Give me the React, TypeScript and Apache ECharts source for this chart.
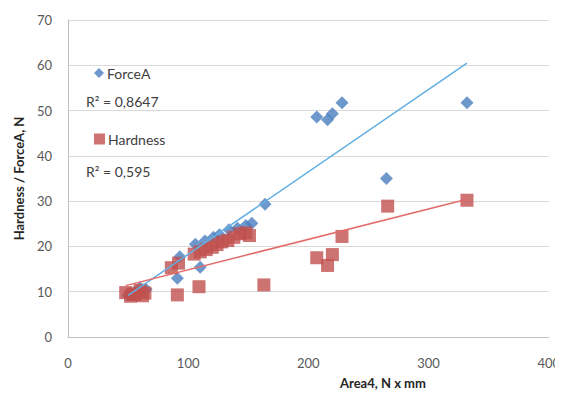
import React, { useEffect, useRef } from "react";
import * as echarts from "echarts";

const forceX = [50, 55, 60, 65, 91, 93, 106, 110, 114, 121, 126, 134, 141, 148, 153, 164, 207, 216, 220, 228, 265, 332];
const forceY = [9.2, 9.8, 10.8, 10.5, 13.0, 17.7, 20.5, 15.4, 21.2, 22.0, 22.6, 23.7, 24.0, 24.6, 25.1, 29.3, 48.6, 48.0, 49.3, 51.7, 35.0, 51.7];

const hardX = [48, 52, 54, 56, 60, 62, 64, 86, 91, 92, 105, 109, 110, 115, 120, 124, 128, 133, 138, 143, 148, 151, 163, 207, 216, 220, 228, 266, 332];
const hardY = [9.8, 9.0, 9.4, 9.5, 10.3, 9.1, 9.7, 15.3, 9.3, 16.3, 18.3, 11.1, 18.8, 19.3, 19.8, 20.4, 21.0, 21.3, 22.0, 22.8, 23.0, 22.4, 11.5, 17.5, 15.8, 18.2, 22.2, 28.9, 30.2];

const seriesNames = ["ForceA", "Hardness"];
const r2Labels = ["R\u00b2 = 0,8647", "R\u00b2 = 0,595"];
const xTitle = "Area4, N x mm";
const yTitle = "Hardness / ForceA, N";

function fit(xs: number[], ys: number[]) {
  const n = xs.length;
  const mx = xs.reduce((a, b) => a + b, 0) / n;
  const my = ys.reduce((a, b) => a + b, 0) / n;
  let sxy = 0;
  let sxx = 0;
  for (let i = 0; i < n; i++) {
    sxy += (xs[i] - mx) * (ys[i] - my);
    sxx += (xs[i] - mx) * (xs[i] - mx);
  }
  const b = sxy / sxx;
  const a = my - b * mx;
  const x0 = Math.min(...xs);
  const x1 = Math.max(...xs);
  return [
    [x0, a + b * x0],
    [x1, a + b * x1],
  ];
}

const FONT = "Lato, 'Open Sans', sans-serif";

export default function App() {
  const ref = useRef<HTMLDivElement>(null);
  useEffect(() => {
    if (!ref.current) return;
    const chart = echarts.init(ref.current, undefined, { renderer: "svg" });
    const zip = (xs: number[], ys: number[]) => xs.map((x, i) => [x, ys[i]]);
    chart.setOption({
      animation: false,
      backgroundColor: "#ffffff",
      textStyle: { fontFamily: FONT },
      grid: { left: 68, right: 10, top: 20, bottom: 61, containLabel: false },
      legend: [
        {
          data: [seriesNames[0]],
          left: 89,
          top: 61,
          icon: "diamond",
          itemWidth: 10,
          itemHeight: 10,
          itemGap: 4,
          textStyle: { fontSize: 14, color: "#404040", fontFamily: FONT, padding: [0, 0, 0, -2] },
        },
        {
          data: [seriesNames[1]],
          left: 89,
          top: 127,
          icon: "rect",
          itemWidth: 11,
          itemHeight: 11,
          itemGap: 4,
          textStyle: { fontSize: 14, color: "#404040", fontFamily: FONT, padding: [0, 0, 0, -2] },
        },
      ],
      graphic: [
        {
          type: "text",
          left: 86,
          top: 94,
          style: { text: r2Labels[0], fontSize: 14, fill: "#404040", fontFamily: FONT },
        },
        {
          type: "text",
          left: 86,
          top: 164,
          style: { text: r2Labels[1], fontSize: 14, fill: "#404040", fontFamily: FONT },
        },
        {
          type: "text",
          left: 340,
          top: 376,
          style: { text: xTitle, fontSize: 13, fontWeight: "bold", fill: "#262626", fontFamily: FONT },
        },
      ],
      xAxis: {
        type: "value",
        min: 0,
        max: 400,
        interval: 100,
        axisLine: { show: true, lineStyle: { color: "#bfbfbf", width: 1 } },
        axisTick: { show: false },
        splitLine: { show: false },
        axisLabel: { color: "#595959", fontSize: 13, margin: 19, fontFamily: FONT },
      },
      yAxis: {
        type: "value",
        min: 0,
        max: 70,
        interval: 10,
        name: yTitle,
        nameLocation: "middle",
        nameGap: 43,
        nameTextStyle: { fontSize: 13, fontWeight: "bold", color: "#262626", fontFamily: FONT },
        axisLine: { show: true, lineStyle: { color: "#bfbfbf", width: 1 } },
        axisTick: { show: false },
        splitLine: { show: true, lineStyle: { color: "#d9d9d9", width: 1 } },
        axisLabel: { color: "#595959", fontSize: 13, margin: 16, fontFamily: FONT },
      },
      series: [
        {
          name: seriesNames[0],
          type: "scatter",
          symbol: "diamond",
          symbolSize: 13,
          itemStyle: { color: "#4a7ebf" },
          data: zip(forceX, forceY),
          z: 2,
        },
        {
          name: seriesNames[1],
          type: "scatter",
          symbol: "rect",
          symbolSize: 13,
          itemStyle: { color: "#c0504d" },
          data: zip(hardX, hardY),
          z: 3,
        },
        {
          name: "ForceA trend",
          type: "line",
          symbol: "none",
          data: fit(forceX, forceY),
          lineStyle: { color: "#62afe3", width: 1.5 },
          z: 4,
          silent: true,
        },
        {
          name: "Hardness trend",
          type: "line",
          symbol: "none",
          data: fit(hardX, hardY),
          lineStyle: { color: "#e36b6b", width: 1.5 },
          z: 4,
          silent: true,
        },
      ],
    });
    return () => chart.dispose();
  }, []);
  return <div ref={ref} style={{ width: 563, height: 398, margin: -8 }} />;
}
